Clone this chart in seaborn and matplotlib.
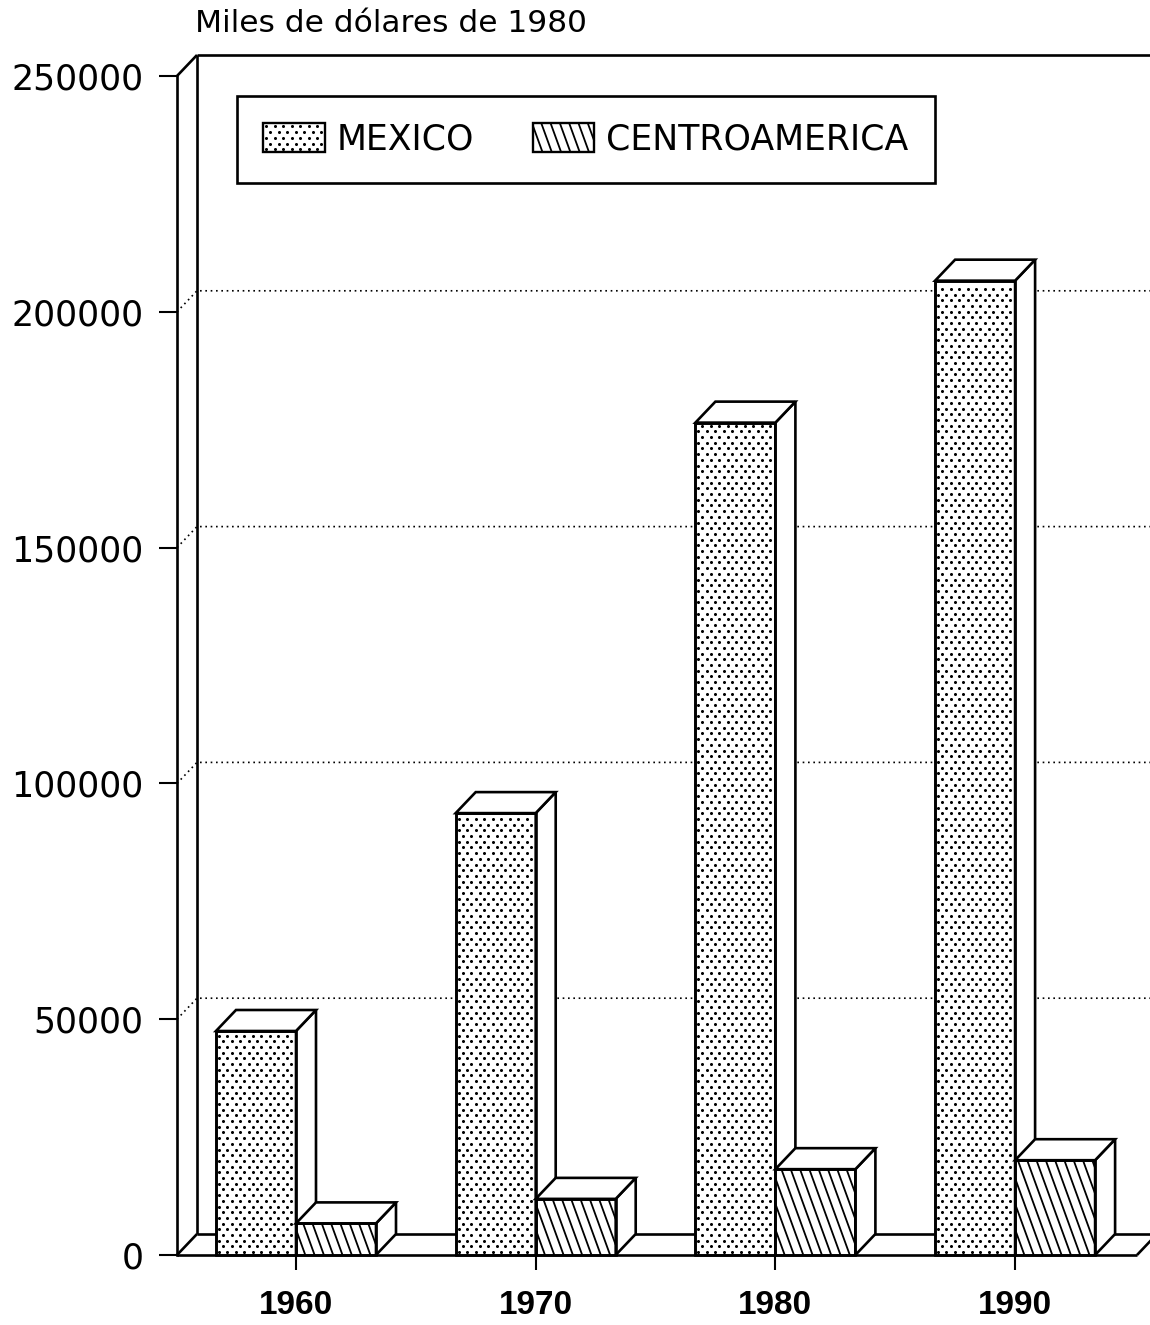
import numpy as np
import pandas as pd
import matplotlib
matplotlib.use("Agg")
import matplotlib.pyplot as plt
import seaborn as sns
from matplotlib.patches import Polygon, Rectangle
from matplotlib.lines import Line2D
from matplotlib.legend_handler import HandlerBase

# ---------------- data ----------------
years = ["1960", "1970", "1980", "1990"]
mexico = [47500, 93700, 176500, 206600]
centro = [6700, 11900, 18200, 20100]
regions = ["MEXICO", "CENTROAMERICA"]
yticks = [0, 50000, 100000, 150000, 200000, 250000]
ytick_labels = ["0", "50000", "100000", "150000", "200000", "250000"]
title = "Miles de dólares de 1980"

# ---------------- style ----------------
sns.set_theme(style="white")
plt.rcParams["font.family"] = ["DejaVu Sans"]
plt.rcParams["text.color"] = "black"
plt.rcParams["xtick.color"] = "black"
plt.rcParams["ytick.color"] = "black"

W, H = 1150, 1325
fig = plt.figure(figsize=(W / 100, H / 100), dpi=100)
AX_L, AX_R, AX_T, AX_B = 177, 1150, 76, 1255
ax = fig.add_axes([AX_L / W, (H - AX_B) / H, (AX_R - AX_L) / W, (AX_B - AX_T) / H])

df = pd.DataFrame({
    "year": years * 2,
    "value": mexico + centro,
    "region": [regions[0]] * len(years) + [regions[1]] * len(years),
})

LW = 1.9
sns.barplot(data=df, x="year", y="value", hue="region", order=years,
            hue_order=regions, palette=["white", "white"], saturation=1,
            edgecolor="black", linewidth=LW, width=0.6675, errorbar=None,
            legend=False, ax=ax)

CAT_PX = 239.7
X0_PX = 296
xlim = ((AX_L - X0_PX) / CAT_PX, (AX_R - X0_PX) / CAT_PX)
ax.set_xlim(*xlim)
ax.set_ylim(0, 250000)
for s in ax.spines.values():
    s.set_visible(False)
ax.spines["left"].set_visible(True)
ax.spines["left"].set_color("black")
ax.spines["left"].set_linewidth(LW)

sx = (AX_R - AX_L) / (xlim[1] - xlim[0])      # px per data-x
sy = (AX_B - AX_T) / 250000.0                 # px per data-y
DX = 20 / sx
DY = 21 / sy

# ---------------- back wall / floor / grid ----------------
XL = xlim[0]
XBW = XL + DX
XR = xlim[1] + 0.2
XFE = (1137 - X0_PX) / CAT_PX
wall = dict(color="black", lw=LW, clip_on=False, zorder=1.5, solid_capstyle="butt")
ax.plot([XBW, XBW], [DY, 250000 + DY], **wall)
ax.plot([XBW, XR], [250000 + DY, 250000 + DY], **wall)
ax.plot([XL, XBW], [250000, 250000 + DY], **wall)
ax.plot([XL, XBW], [0, DY], **wall)
ax.plot([XBW, XR], [DY, DY], **wall)
ax.plot([XL, XFE], [0, 0], **wall)
ax.plot([XFE, XFE + DX], [0, DY], **wall)
for v in yticks[1:-1]:
    ax.plot([XL, XBW, XR], [v, v + DY, v + DY], color="black", lw=1.2,
            ls=(0, (1, 2.2)), clip_on=False, zorder=1)


# ---------------- pattern helpers (pixel space) ----------------
def dot_grid(w, h, gx, gy, margin):
    xs, ys = [], []
    i = 0
    y = gy / 2
    while y < h - margin:
        off = (gx / 2) * (i % 2) + gx / 3
        x = off
        while x < w - margin:
            if x > margin:
                xs.append(x)
                ys.append(y)
            x += gx
        i += 1
        y += gy
    return np.array(xs), np.array(ys)


def slash_segments(w, h, gap, slope):
    segs = []
    c = -h / slope
    while c < w:
        xa, xb = max(c, 0.0), min(c + h / slope, w)
        if xa < xb:
            segs.append((xa, h - slope * (xa - c), xb, h - slope * (xb - c)))
        c += gap
    return segs


DOT_GX, DOT_GY = 8.5, 5.7
LINE_GAP, LINE_SLOPE = 9.3, 2.75
DOT_MS = 2.2

# ---------------- 3D bars ----------------
bars = [p for p in ax.patches if isinstance(p, Rectangle) and p.get_width() > 0]
n = len(years)
for idx, bar in enumerate(bars):
    series = 0 if idx < n else 1
    z = 3 + series
    x0 = bar.get_x()
    w = bar.get_width()
    h = bar.get_height()
    x1 = x0 + w
    bar.set_zorder(z)
    side = Polygon([(x1, 0), (x1 + DX, DY), (x1 + DX, h + DY), (x1, h)], closed=True,
                   facecolor="white", edgecolor="black", lw=LW, zorder=z, clip_on=False,
                   joinstyle="miter")
    top = Polygon([(x0, h), (x1, h), (x1 + DX, h + DY), (x0 + DX, h + DY)], closed=True,
                  facecolor="white", edgecolor="black", lw=LW, zorder=z, clip_on=False,
                  joinstyle="miter")
    ax.add_patch(side)
    ax.add_patch(top)
    wpx, hpx = w * sx, h * sy
    if series == 0:
        xs, ys = dot_grid(wpx, hpx, DOT_GX, DOT_GY, 2.5)
        ax.plot(x0 + xs / sx, ys / sy, ls="none", marker="o", ms=DOT_MS, mew=0,
                color="black", zorder=z + 0.1, clip_on=False)
    else:
        for (xa, ya, xb, yb) in slash_segments(wpx, hpx, LINE_GAP, LINE_SLOPE):
            ax.plot([x0 + xa / sx, x0 + xb / sx], [ya / sy, yb / sy], color="black",
                    lw=1.3, zorder=z + 0.1, clip_on=False, solid_capstyle="butt")
    ax.add_patch(Rectangle((x0, 0), w, h, facecolor="none", edgecolor="black", lw=LW,
                           zorder=z + 0.2, clip_on=False, joinstyle="miter"))

# ---------------- ticks ----------------
ax.set_yticks(yticks)
ax.set_yticklabels(ytick_labels)
ax.tick_params(axis="y", left=True, direction="out", length=13, width=1.5,
               pad=11, labelsize=25, colors="black")
ax.set_xticks(range(len(years)))
ax.set_xticklabels(years, fontfamily=["Liberation Sans", "DejaVu Sans"],
                   fontweight="bold", fontsize=24)
ax.tick_params(axis="x", bottom=True, direction="out", length=11, width=1.5,
               pad=14, colors="black")
ax.set_xlabel("")
ax.set_ylabel("")

# ---------------- title ----------------
fig.text(195 / W, 1 - 32 / H, title, ha="left", va="baseline", fontsize=22.5,
         color="black")


# ---------------- legend ----------------
class PatternHandler(HandlerBase):
    def __init__(self, kind):
        super().__init__()
        self.kind = kind

    def create_artists(self, legend, orig_handle, xdescent, ydescent, width,
                       height, fontsize, trans):
        x0, y0 = -xdescent, -ydescent
        k = 72.0 / 100.0
        arts = [Rectangle((x0, y0), width, height, facecolor="white",
                          edgecolor="none", transform=trans)]
        if self.kind == "dots":
            xs, ys = dot_grid(width, height, DOT_GX * k, DOT_GY * k, 2.0 * k)
            arts.append(Line2D(x0 + xs, y0 + ys, ls="none", marker="o", ms=DOT_MS,
                               mew=0, color="black", transform=trans))
        else:
            for (xa, ya, xb, yb) in slash_segments(width, height, LINE_GAP * k, LINE_SLOPE):
                arts.append(Line2D([x0 + xa, x0 + xb], [y0 + ya, y0 + yb],
                                   color="black", lw=1.3, transform=trans,
                                   solid_capstyle="butt"))
        arts.append(Rectangle((x0, y0), width, height, facecolor="none",
                              edgecolor="black", lw=1.7, transform=trans))
        return arts


h_mex = Rectangle((0, 0), 1, 1)
h_cen = Rectangle((0, 0), 1, 1)
leg = fig.legend([h_mex, h_cen], regions, loc="upper left",
                 bbox_to_anchor=(237 / W, 1 - 96 / H), bbox_transform=fig.transFigure,
                 ncol=2, fontsize=25, frameon=True, fancybox=False, framealpha=1,
                 edgecolor="black", borderaxespad=0, borderpad=0.76,
                 handlelength=1.76, handleheight=0.92, handletextpad=0.35,
                 columnspacing=1.7,
                 handler_map={h_mex: PatternHandler("dots"),
                              h_cen: PatternHandler("lines")})
leg.get_frame().set_linewidth(1.9)
for t in leg.get_texts():
    t.set_color("black")

fig.savefig("out.png", dpi=100, facecolor="white")
